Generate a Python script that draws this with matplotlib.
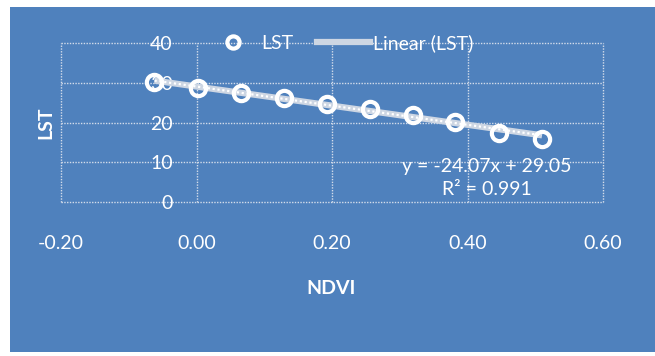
import matplotlib.pyplot as plt
from matplotlib.patches import Rectangle

# values
ndvi = [-0.062, 0.002, 0.065, 0.129, 0.193, 0.256, 0.319, 0.381, 0.446, 0.510]
lst = [30.3, 28.8, 27.5, 26.1, 24.7, 23.3, 21.8, 20.1, 17.4, 15.9]
trend_slope = -24.07
trend_intercept = 29.05
r_squared = 0.991

x_ticks = [-0.2, 0.0, 0.2, 0.4, 0.6]
y_ticks = [0, 10, 20, 30, 40]

bg = '#4F81BD'
fg = 'white'
grid_col = '#d3dcea'
fs = 14
plt.rcParams['font.family'] = ['Lato', 'DejaVu Sans']

fig = plt.figure(figsize=(6.55, 3.56), dpi=100, facecolor='white')
# blue chart area (white strip on left and top like the screenshot)
fig.patches.append(Rectangle((10 / 655, 4 / 356), 1 - 10 / 655, 345 / 356,
                             transform=fig.transFigure, facecolor=bg,
                             edgecolor='none', zorder=-10))

ax = fig.add_axes([61 / 655, 154 / 356, 542 / 655, 159 / 356])
ax.set_zorder(1)
ax.set_facecolor('none')
ax.set_xlim(x_ticks[0], x_ticks[-1])
ax.set_ylim(y_ticks[0], y_ticks[-1])

# trendline from the displayed equation
tx = [min(ndvi), max(ndvi)]
ty = [trend_slope * v + trend_intercept for v in tx]
ax.plot(tx, ty, color='#cdd6e3', lw=4.5, solid_capstyle='butt', zorder=3)
ax.plot(tx, ty, color='white', lw=1.6, ls=(0, (1, 1.2)), zorder=3)

ax.plot(ndvi, lst, ls='none', marker='o', ms=11, mew=3,
        mec='white', mfc='none', zorder=4, label='LST')

# legend handles
h_pts, = ax.plot([], [], ls='none', marker='o', ms=11, mew=3,
                 mec='white', mfc='none')
h_line, = ax.plot([], [], color='#cdd6e3', lw=4.5)
leg = ax.legend([h_pts, h_line], ['LST', 'Linear (LST)'], ncol=2,
                loc='center', bbox_to_anchor=(0.514, 1.0), frameon=False,
                fontsize=fs, labelcolor=fg, markerscale=0.8,
                handlelength=2.7, handletextpad=0.15, columnspacing=1.2,
                borderpad=0, borderaxespad=0)
leg.set_zorder(5)

ax.text(0.429, 6.0, 'y = -24.07x + 29.05\nR² = %.3f' % r_squared,
        ha='center', va='center', color=fg, fontsize=fs, linespacing=1.45,
        zorder=5)

# dotted grid, the outer grid lines make the plot border
ax.set_xticks(x_ticks)
ax.set_yticks(y_ticks)
ax.grid(True, color=grid_col, lw=1.0, ls=(0, (1, 1)))
for gl in ax.get_xgridlines() + ax.get_ygridlines():
    gl.set_clip_on(False)
ax.set_axisbelow(True)
for s in ax.spines.values():
    s.set_visible(False)

ax.set_xticklabels(['%.2f' % v for v in x_ticks])
ax.set_yticklabels([str(v) for v in y_ticks])
ax.tick_params(axis='both', length=0, colors=fg, labelsize=fs)
ax.tick_params(axis='x', pad=24)
ax.tick_params(axis='y', pad=-80.5)
for lab in ax.get_yticklabels():
    lab.set_horizontalalignment('right')

ax.set_xlabel('NDVI', color=fg, fontsize=fs, fontweight='bold')
ax.xaxis.set_label_coords((331 - 61) / 542, (202 - 280) / 159)
ax.set_ylabel('LST', color=fg, fontsize=fs, fontweight='bold')
ax.yaxis.set_label_coords((54 - 61) / 542, 0.5)

fig.savefig('out.png', dpi=100, facecolor='white')
